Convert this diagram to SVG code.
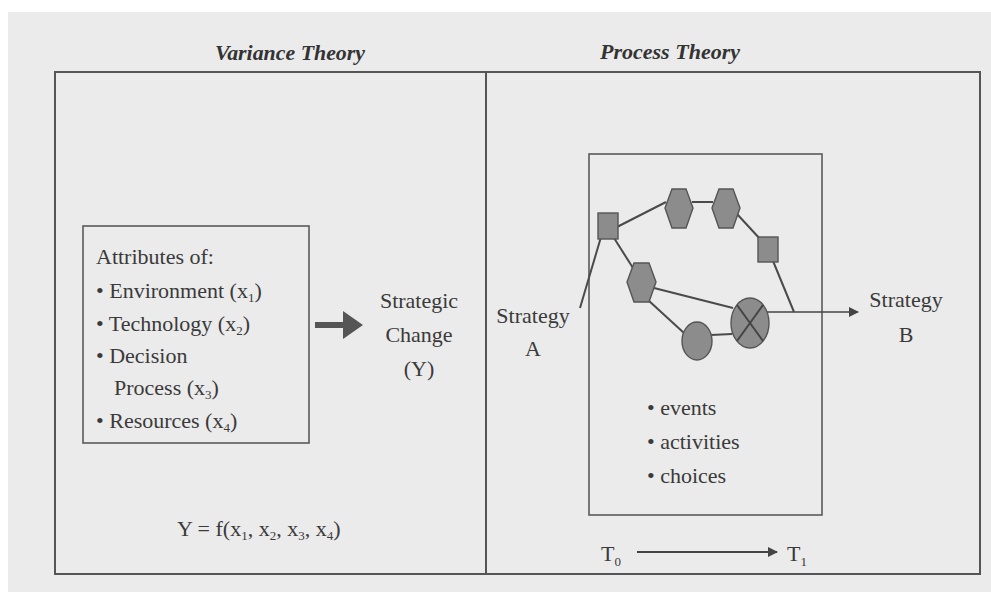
<svg xmlns="http://www.w3.org/2000/svg" width="991" height="592" viewBox="0 0 991 592">
<defs>
<style>
.t{font-family:"Liberation Serif","Times New Roman",serif;fill:#3a3a3a;font-size:22px}
.title{font-family:"Liberation Serif","Times New Roman",serif;fill:#333;font-size:22px;font-weight:bold;font-style:italic}
.frame{fill:none;stroke:#555;stroke-width:2}
.box{fill:none;stroke:#5a5a5a;stroke-width:1.6}
.node{fill:#8c8c8c;stroke:#555;stroke-width:1.4}
.edge{fill:none;stroke:#4a4a4a;stroke-width:2}
.sub{font-size:13px}
</style>
<marker id="thin" viewBox="0 0 10 10" refX="9" refY="5" markerWidth="10" markerHeight="10" markerUnits="userSpaceOnUse" orient="auto">
<path d="M0,0 L10,5 L0,10 Z" fill="#444"/>
</marker>
</defs>
<rect x="0" y="0" width="991" height="592" fill="#fff"/>
<rect x="8" y="12" width="983" height="580" fill="#ebebeb"/>

<g id="titles">
<text class="title" x="290" y="60" text-anchor="middle" textLength="150" lengthAdjust="spacingAndGlyphs">Variance Theory</text>
<text class="title" x="670" y="59" text-anchor="middle" textLength="140" lengthAdjust="spacingAndGlyphs">Process Theory</text>
</g>

<g id="frame">
<rect class="frame" x="55" y="72" width="925" height="502"/>
<line class="frame" x1="486" y1="72" x2="486" y2="574"/>
</g>

<g id="attributes">
<rect class="box" x="83" y="226" width="226" height="217"/>
<text class="t" x="96" y="264">Attributes of:</text>
<text class="t" x="96" y="298">• Environment (x<tspan class="sub" dy="4">1</tspan><tspan dy="-4">)</tspan></text>
<text class="t" x="96" y="331">• Technology (x<tspan class="sub" dy="4">2</tspan><tspan dy="-4">)</tspan></text>
<text class="t" x="96" y="363">• Decision</text>
<text class="t" x="114" y="395">Process (x<tspan class="sub" dy="4">3</tspan><tspan dy="-4">)</tspan></text>
<text class="t" x="96" y="428">• Resources  (x<tspan class="sub" dy="4">4</tspan><tspan dy="-4">)</tspan></text>
</g>

<g id="strategic-change">
<text class="t" x="419" y="308" text-anchor="middle">Strategic</text>
<text class="t" x="419" y="342" text-anchor="middle">Change</text>
<text class="t" x="419" y="376" text-anchor="middle">(Y)</text>
</g>

<g id="formula">
<text class="t" x="177" y="536">Y = f(x<tspan class="sub" dy="4">1</tspan><tspan dy="-4">, x</tspan><tspan class="sub" dy="4">2</tspan><tspan dy="-4">, x</tspan><tspan class="sub" dy="4">3</tspan><tspan dy="-4">, x</tspan><tspan class="sub" dy="4">4</tspan><tspan dy="-4">)</tspan></text>
</g>

<g id="process-box">
<rect class="box" x="589" y="154" width="233" height="361"/>
<text class="t" x="647" y="415">• events</text>
<text class="t" x="647" y="449">• activities</text>
<text class="t" x="647" y="483">• choices</text>
</g>

<g id="strategy-a">
<text class="t" x="533" y="323" text-anchor="middle">Strategy</text>
<text class="t" x="533" y="356" text-anchor="middle">A</text>
</g>
<g id="strategy-b">
<text class="t" x="906" y="307" text-anchor="middle">Strategy</text>
<text class="t" x="906" y="342" text-anchor="middle">B</text>
</g>

<g id="time">
<text class="t" x="601" y="561">T<tspan class="sub" dy="5">0</tspan></text>
<text class="t" x="787" y="561">T<tspan class="sub" dy="5">1</tspan></text>
</g>

<g id="connectors">
<line x1="315" y1="325" x2="345" y2="325" stroke="#555" stroke-width="6"/>
<polygon points="343,311 363,325 343,339" fill="#555"/>
<line class="edge" x1="580" y1="308" x2="601" y2="237"/>
<line class="edge" x1="617" y1="227" x2="666" y2="202"/>
<line class="edge" x1="692" y1="202" x2="713" y2="202"/>
<line class="edge" x1="737" y1="214" x2="761" y2="240"/>
<line class="edge" x1="773" y1="261" x2="794" y2="312"/>
<line class="edge" x1="614" y1="238" x2="633" y2="268"/>
<line class="edge" x1="654" y1="288" x2="733" y2="308"/>
<line class="edge" x1="648" y1="300" x2="684" y2="333"/>
<line class="edge" x1="711" y1="335" x2="732" y2="334"/>
<line x1="765" y1="312" x2="858" y2="312" stroke="#444" stroke-width="1.5" marker-end="url(#thin)"/>
<line x1="637" y1="552" x2="777" y2="552" stroke="#444" stroke-width="1.8" marker-end="url(#thin)"/>
</g>

<g id="n-square1"><rect class="node" x="598" y="213" width="20" height="26"/></g>
<g id="n-hex1"><polygon class="node" points="665,208 672,189 686,189 693,208 686,228 672,228"/></g>
<g id="n-hex2"><polygon class="node" points="712,208 719,189 733,189 740,208 733,228 719,228"/></g>
<g id="n-square2"><rect class="node" x="758" y="237" width="20" height="25"/></g>
<g id="n-hex3"><polygon class="node" points="627,282 634,263 649,263 656,282 649,302 634,302"/></g>
<g id="n-circle"><ellipse class="node" cx="697" cy="341" rx="15" ry="19"/></g>
<g id="n-xcircle">
<ellipse class="node" cx="750" cy="323" rx="19" ry="25"/>
<line x1="737" y1="305" x2="763" y2="341" stroke="#444" stroke-width="2"/>
<line x1="763" y1="305" x2="737" y2="341" stroke="#444" stroke-width="2"/>
</g>
</svg>
